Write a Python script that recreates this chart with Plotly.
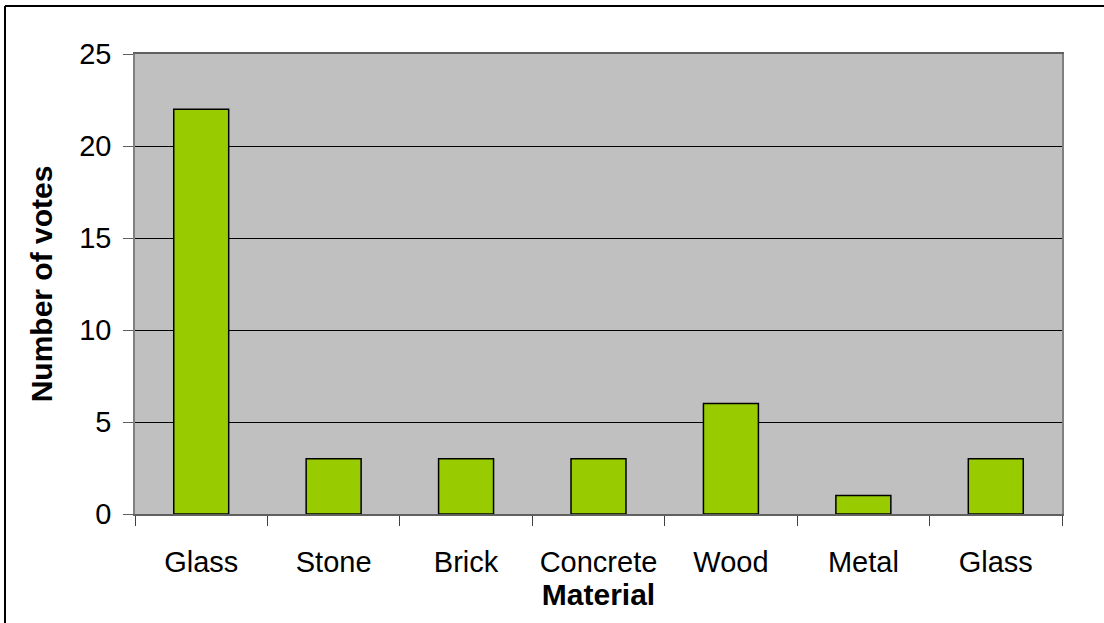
import plotly.graph_objects as go

categories = ["Glass", "Stone", "Brick", "Concrete", "Wood", "Metal", "Glass"]
votes = [22, 3, 3, 3, 6, 1, 3]
y_ticks = [0, 5, 10, 15, 20, 25]

W, H = 1104, 623
ML, MR, MT, MB = 135, 42, 54, 109
pw, ph = W - ML - MR, H - MT - MB

positions = list(range(len(categories)))

fig = go.Figure(go.Bar(
    x=positions, y=votes, width=0.415,
    marker=dict(color="#99CC00", line=dict(color="black", width=1.5)),
))

font = dict(family="Liberation Sans, Arial, sans-serif", color="black")

fx0, fx1 = (5 - ML) / pw, (W - ML) / pw
fy0, fy1 = (ph + MT - H) / ph, (ph + MT - 6) / ph
frame = dict(xref="paper", yref="paper", line=dict(color="black", width=2), layer="below")

fig.update_layout(
    width=W, height=H,
    margin=dict(l=ML, r=MR, t=MT, b=MB, pad=0),
    paper_bgcolor="white", plot_bgcolor="#C0C0C0",
    showlegend=False, font=font,
    shapes=[
        dict(type="line", x0=fx0, x1=fx0, y0=fy0, y1=fy1, **frame),
        dict(type="line", x0=fx0, x1=fx1, y0=fy1, y1=fy1, **frame),
    ],
)

fig.update_xaxes(
    range=[-0.5, len(categories) - 0.5],
    tickvals=positions, ticktext=categories, ticks="",
    tickfont=dict(size=29, **font), ticklabelstandoff=21,
    showgrid=False, zeroline=False,
    showline=True, linecolor="#606060", linewidth=1.5, mirror=True,
    minor=dict(tick0=0.5, dtick=1, ticks="outside", ticklen=10,
               tickcolor="#404040", tickwidth=1, showgrid=False),
    title=dict(text="<b>Material</b>", font=dict(size=30, **font), standoff=7),
)

fig.update_yaxes(
    range=[0, 25], tickvals=y_ticks,
    ticks="outside", ticklen=10, tickcolor="#606060", tickwidth=1,
    tickfont=dict(size=29, **font), ticklabelstandoff=6,
    showgrid=True, gridcolor="black", gridwidth=1, zeroline=False,
    showline=True, linecolor="#808080", linewidth=1.5, mirror=True,
    title=dict(text="<b>Number of votes</b>", font=dict(size=30, **font), standoff=18),
)

fig.write_html("out.html", config={"displayModeBar": False},
               post_script="document.body.style.margin='0';document.body.style.overflow='hidden';")
